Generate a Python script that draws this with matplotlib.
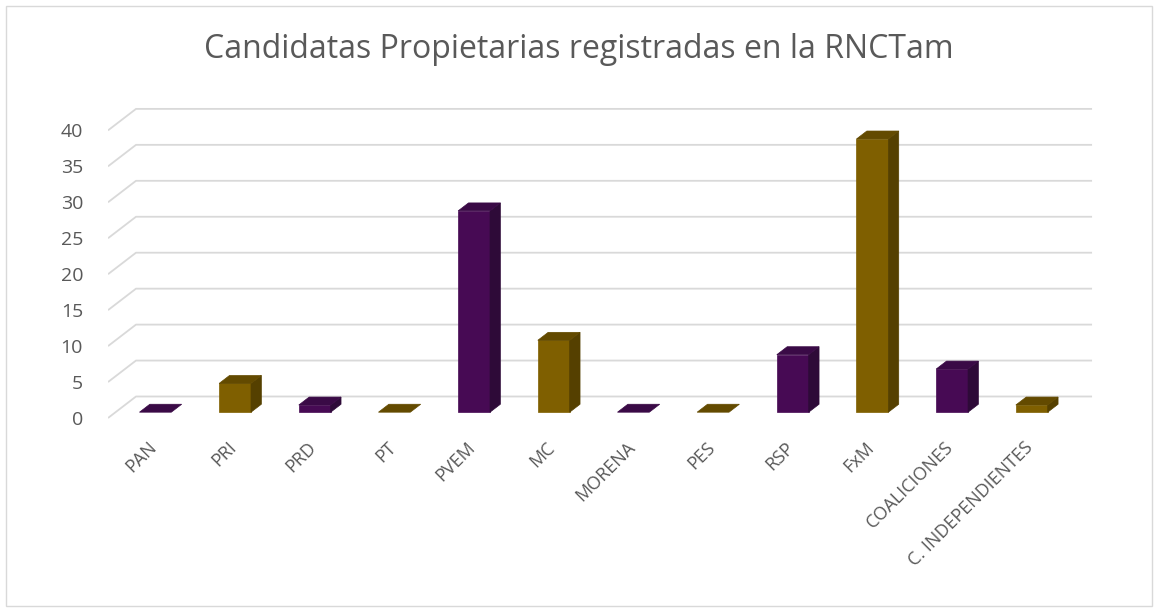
import matplotlib
matplotlib.use("Agg")
import matplotlib.pyplot as plt
from matplotlib.patches import Polygon, Rectangle

partidos = ["PAN", "PRI", "PRD", "PT", "PVEM", "MC", "MORENA", "PES", "RSP",
            "FxM", "COALICIONES", "C. INDEPENDIENTES"]
candidatas = [0, 4, 1, 0, 28, 10, 0, 0, 8, 38, 6, 1]
yticks = [0, 5, 10, 15, 20, 25, 30, 35, 40]

morado = ("#470A54", "#2E0A38", "#3A0A46")   # frente, lado, tapa
oro = ("#7F5F00", "#554000", "#634A00")
colores = [morado, oro] * 6

plt.rcParams['font.family'] = ['Open Sans', 'DejaVu Sans']
gris = "#595959"

fig = plt.figure(figsize=(11.58, 6.11), dpi=100)
fig.patch.set_facecolor("white")
fig.add_artist(Rectangle((6 / 1158, 5 / 611), 1146 / 1158, 600 / 611,
                         transform=fig.transFigure, fill=False,
                         edgecolor="#D9D9D9", lw=1))

# plano frontal x [-0.5, 11.5], 79.67 px por categoría, 7.19 px por unidad
pxx, pxy = 79.67, 7.19
ax = fig.add_axes([108 / 1158, (611 - 430) / 611, 992 / 1158, 330 / 611])
ax.set_xlim(-0.5, -0.5 + 992 / pxx)
ax.set_ylim(-12 / pxy, 318 / pxy)
for s in ax.spines.values():
    s.set_visible(False)

# profundidad completa
DX = 28 / pxx
DY = 21.5 / pxy
n = len(partidos)

for v in yticks:
    ax.plot([-0.5, -0.5 + DX, n - 0.5 + DX], [v, v + DY, v + DY],
            color="#D9D9D9", lw=1.3, zorder=1, solid_capstyle="butt")

w = 0.4
d0, d1 = 0.27, 0.64
for i, (val, c) in enumerate(zip(candidatas, colores)):
    x0 = i - w / 2 + d0 * DX
    x1 = x0 + w
    y0 = d0 * DY
    ox, oy = (d1 - d0) * DX, (d1 - d0) * DY
    top = y0 + val
    if val > 0:
        ax.add_patch(Polygon([(x0, y0), (x1, y0), (x1, top), (x0, top)],
                             closed=True, fc=c[0], ec=c[0], lw=0.5, zorder=3))
        ax.add_patch(Polygon([(x1, y0), (x1 + ox, y0 + oy), (x1 + ox, top + oy), (x1, top)],
                             closed=True, fc=c[1], ec=c[1], lw=0.5, zorder=3))
    ax.add_patch(Polygon([(x0, top), (x1, top), (x1 + ox, top + oy), (x0 + ox, top + oy)],
                         closed=True, fc=c[2], ec=c[2], lw=0.5, zorder=3))

ax.set_yticks(yticks)
ax.set_yticklabels([str(v) for v in yticks], fontsize=14, color=gris)
ax.set_xticks(range(n))
ax.set_xticklabels(partidos, rotation=45, ha="right", rotation_mode="anchor",
                   fontsize=13, color=gris)
ax.tick_params(axis="y", length=0, pad=18)
ax.tick_params(axis="x", length=0, pad=6)

fig.text(0.5, 1 - 49 / 611, "Candidatas Propietarias registradas en la RNCTam",
         ha="center", va="center", fontsize=23, color=gris)

fig.savefig("out.png", dpi=100, facecolor="white")
